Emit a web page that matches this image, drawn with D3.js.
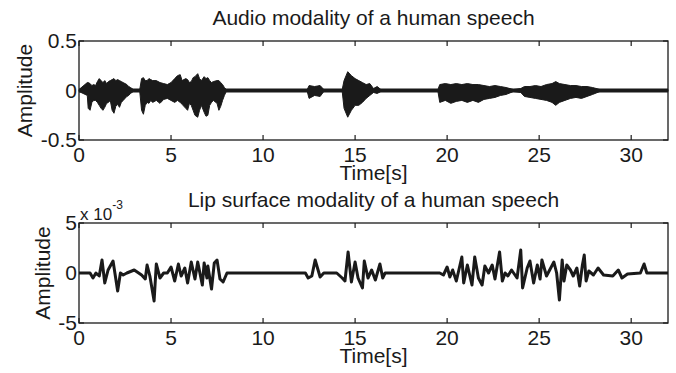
<!DOCTYPE html>
<meta charset="utf-8">

<!-- Load d3.js -->
<script src="https://d3js.org/d3.v7.min.js"></script>

<style>
  body { margin: 0; background: #fff; }
  text { font-family: "Liberation Sans", Arial, sans-serif; fill: #1a1a1a; }
</style>

<!-- Create a div where the graph will take place -->
<div id="my_dataviz"></div>

<script>

    // x ticks shared by both panels
    var timeTicks = [0, 5, 10, 15, 20, 25, 30];

    // audio envelope (time in s, upper / lower amplitude)
    var audioTime  = [0, 0.45, 0.5, 0.6, 0.7, 0.8, 0.9, 1.0, 1.1, 1.2, 1.3, 1.4, 1.5, 1.6, 1.7, 1.8, 1.9,
                      2.0, 2.1, 2.2, 2.3, 2.4, 2.5, 2.6, 2.7, 2.8, 2.95,
                      3.3, 3.4, 3.5, 3.6, 3.7, 3.8, 3.9, 4.0, 4.2, 4.4, 4.6, 4.8, 5.0, 5.2, 5.35, 5.5,
                      5.6, 5.8, 5.9, 6.0, 6.1, 6.2, 6.3, 6.45, 6.55, 6.65, 6.8, 6.9, 7.0, 7.1, 7.2,
                      7.3, 7.5, 7.6, 7.7, 7.8, 7.9, 8.0,
                      12.4, 12.5, 12.8, 13.1, 13.3,
                      14.3, 14.4, 14.6, 14.8, 15.0, 15.2, 15.4, 15.6, 15.8, 16.0, 16.2, 16.4,
                      19.5, 19.6, 19.9, 20.2, 20.5, 20.8, 21.1, 21.4, 21.7, 22.0, 22.3, 22.6, 22.9,
                      23.2, 23.6, 24.0, 24.2, 24.5, 24.8, 25.1, 25.4, 25.7, 25.9, 26.1, 26.4, 26.7,
                      27.0, 27.3, 27.6, 27.9, 28.3, 32];
    var audioUpper = [0.01, 0.08, 0.08, 0.07, 0.05, 0.06, 0.05, 0.09, 0.12, 0.10, 0.08, 0.10, 0.07, 0.09, 0.10, 0.11, 0.12,
                      0.10, 0.11, 0.10, 0.09, 0.08, 0.07, 0.06, 0.04, 0.03, 0.01,
                      0.01, 0.12, 0.13, 0.10, 0.10, 0.12, 0.11, 0.10, 0.10, 0.08, 0.07, 0.06, 0.08, 0.12, 0.15, 0.16,
                      0.10, 0.12, 0.11, 0.08, 0.09, 0.13, 0.14, 0.17, 0.12, 0.10, 0.14, 0.12, 0.13, 0.10, 0.08,
                      0.09, 0.10, 0.10, 0.08, 0.06, 0.03, 0.01,
                      0.01, 0.05, 0.04, 0.05, 0.01,
                      0.01, 0.10, 0.19, 0.15, 0.12, 0.10, 0.08, 0.06, 0.07, 0.02, 0.04, 0.01,
                      0.01, 0.06, 0.07, 0.06, 0.07, 0.06, 0.07, 0.06, 0.06, 0.05, 0.04, 0.05, 0.04,
                      0.03, 0.01, 0.02, 0.04, 0.04, 0.05, 0.04, 0.06, 0.07, 0.09, 0.07, 0.06, 0.05,
                      0.05, 0.04, 0.04, 0.03, 0.01, 0.01];
    var audioLower = [-0.01, -0.05, -0.18, -0.20, -0.12, -0.10, -0.10, -0.12, -0.15, -0.18, -0.20, -0.17, -0.13, -0.12, -0.10, -0.20, -0.23,
                      -0.16, -0.14, -0.17, -0.12, -0.10, -0.08, -0.06, -0.05, -0.03, -0.01,
                      -0.01, -0.20, -0.24, -0.15, -0.12, -0.13, -0.10, -0.12, -0.10, -0.13, -0.09, -0.08, -0.10, -0.12, -0.10, -0.12,
                      -0.14, -0.18, -0.20, -0.13, -0.15, -0.20, -0.25, -0.27, -0.20, -0.15, -0.22, -0.26, -0.25, -0.15, -0.12,
                      -0.10, -0.13, -0.20, -0.16, -0.10, -0.05, -0.01,
                      -0.01, -0.08, -0.05, -0.06, -0.01,
                      -0.01, -0.18, -0.27, -0.20, -0.15, -0.15, -0.12, -0.08, -0.05, -0.02, -0.03, -0.01,
                      -0.01, -0.12, -0.10, -0.13, -0.11, -0.10, -0.12, -0.10, -0.12, -0.09, -0.08, -0.07, -0.05,
                      -0.04, -0.01, -0.02, -0.06, -0.07, -0.08, -0.09, -0.10, -0.12, -0.15, -0.12, -0.10, -0.08,
                      -0.07, -0.08, -0.06, -0.04, -0.01, -0.01];

    // lip surface signal (time in s, value in 1e-3)
    var lipTime  = [0, 0.6, 0.76, 0.92, 1.1, 1.25, 1.4, 1.58, 1.85, 2.1, 2.25, 2.4, 2.6, 3.0, 3.4,
                    3.6, 3.7, 3.85, 4.08, 4.2, 4.4, 4.6, 4.8, 5.0, 5.2, 5.4, 5.55, 5.75, 5.9, 6.1,
                    6.3, 6.45, 6.7, 6.8, 6.95, 7.0, 7.2, 7.35, 7.5, 7.66, 7.83, 8.04,
                    12.3, 12.45, 12.65, 12.83, 13.1, 13.3, 14.0, 14.3, 14.45, 14.62, 14.8, 15.0,
                    15.16, 15.4, 15.5, 15.7, 15.9, 16.1, 16.35, 16.5, 16.63,
                    19.6, 19.8, 20.0, 20.15, 20.3, 20.5, 20.8, 20.9, 21.1, 21.35, 21.5, 21.7, 21.9,
                    22.05, 22.25, 22.45, 22.6, 22.85, 23.0, 23.15, 23.3, 23.5, 23.8, 24.0, 24.1,
                    24.35, 24.5, 24.7, 24.9, 25.05, 25.15, 25.4, 25.8, 25.95, 26.1, 26.25, 26.35,
                    26.5, 26.7, 26.85, 27.05, 27.2, 27.35, 27.45, 27.55, 27.7, 27.95, 28.2, 28.5,
                    29.0, 29.3, 29.5, 29.8, 30.5, 30.7, 30.85, 32];
    var lipValue = [0, 0, -0.5, 0, -0.3, 1.3, -1.0, 0.3, 1.2, -1.8, 0, -0.2, 0, 0.3, -0.2,
                    -0.6, 0.8, -0.3, -2.8, 0.9, -0.5, 0, 0, 0.6, -0.8, 0.9, -0.3, 0.5, -1.0, 1.1,
                    -0.6, 1.1, -1.2, 1.0, -0.5, 0.7, -1.6, 1.0, 1.3, -0.6, -0.9, 0,
                    0, -0.5, -0.3, 1.3, -0.4, 0, 0, -0.5, -0.8, 2.1, -0.9, 1.1,
                    -0.5, -1.5, 1.2, -0.5, 0.3, -0.7, 0.9, -0.5, 0,
                    0, -0.2, 0.6, -0.4, 0.3, -0.8, 1.6, -1.0, 0.8, -1.2, 1.6, -0.5, -1.2,
                    0.7, 0, 0.8, -0.6, 2.1, -0.8, 0, -0.3, 0.3, -0.5, 2.3, -1.5,
                    0.5, 1.2, -1.0, 0.8, -0.6, 1.3, -0.3, 1.1, 0, -2.7, 1.3, -0.8,
                    0.8, 0.3, -0.3, 0.5, -1.3, 0.8, 1.8, -0.8, 0.2, -0.2, 0.5, -0.2,
                    -0.3, 0.3, -0.5, -0.1, 0, 0.9, 0, 0];

    var audioTicks = [-0.5, 0, 0.5];
    var lipTicks = [-5, 0, 5];

    var W = 676, H = 373;
    var svg = d3.select("#my_dataviz")
      .append("svg")
        .attr("width", W)
        .attr("height", H);

    var x = d3.scaleLinear().domain([0, 32]).range([79, 668]);
    var ink = "#1a1a1a";
    var fs = "21px";

    // draws one MATLAB style panel box with ticks and labels
    function panel(top, bottom, yTicks, yDomain, title, ampX) {
      var y = d3.scaleLinear().domain(yDomain).range([bottom, top]);
      var g = svg.append("g");

      g.append("rect")
        .attr("x", x(0)).attr("y", top)
        .attr("width", x(32) - x(0)).attr("height", bottom - top)
        .attr("fill", "none").attr("stroke", ink).attr("stroke-width", 1.3);

      // inward ticks top and bottom
      timeTicks.forEach(function(t) {
        g.append("line").attr("x1", x(t)).attr("x2", x(t)).attr("y1", bottom).attr("y2", bottom - 5)
          .attr("stroke", ink).attr("stroke-width", 1.2);
        g.append("line").attr("x1", x(t)).attr("x2", x(t)).attr("y1", top).attr("y2", top + 5)
          .attr("stroke", ink).attr("stroke-width", 1.2);
        g.append("text").attr("x", x(t)).attr("y", bottom + 22)
          .attr("text-anchor", "middle").style("font-size", fs).text(t);
      });

      yTicks.forEach(function(v) {
        g.append("line").attr("x1", x(0)).attr("x2", x(0) + 5).attr("y1", y(v)).attr("y2", y(v))
          .attr("stroke", ink).attr("stroke-width", 1.2);
        g.append("line").attr("x1", x(32)).attr("x2", x(32) - 5).attr("y1", y(v)).attr("y2", y(v))
          .attr("stroke", ink).attr("stroke-width", 1.2);
        g.append("text").attr("x", 77).attr("y", y(v) + 7)
          .attr("text-anchor", "end").style("font-size", fs).text(v);
      });

      g.append("text").attr("x", (x(0) + x(32)) / 2).attr("y", top - 16)
        .attr("text-anchor", "middle").style("font-size", fs).text(title);

      g.append("text").attr("x", (x(0) + x(32)) / 2).attr("y", bottom + 40)
        .attr("text-anchor", "middle").style("font-size", fs).text("Time[s]");

      g.append("text")
        .attr("transform", "translate(" + ampX + "," + ((top + bottom) / 2) + ") rotate(-90)")
        .attr("text-anchor", "middle").style("font-size", fs).text("Amplitude");

      return y;
    }

    var yA = panel(41, 140, audioTicks, [-0.5, 0.5], "Audio modality of a human speech", 32);
    var yL = panel(223, 323, lipTicks, [-5, 5], "Lip surface modality of a human speech", 50);

    // audio waveform envelope
    var audio = audioTime.map(function(t, i) { return {t: t, hi: audioUpper[i], lo: audioLower[i]}; });
    svg.append("path")
      .datum(audio)
      .attr("fill", ink)
      .attr("stroke", ink)
      .attr("stroke-width", 1)
      .attr("d", d3.area()
        .x(function(d) { return x(d.t); })
        .y0(function(d) { return yA(d.lo); })
        .y1(function(d) { return yA(d.hi); }));
    svg.append("line")
      .attr("x1", x(0)).attr("x2", x(32)).attr("y1", yA(0)).attr("y2", yA(0))
      .attr("stroke", ink).attr("stroke-width", 4);

    // lip surface line
    var lip = lipTime.map(function(t, i) { return {t: t, v: lipValue[i]}; });
    svg.append("path")
      .datum(lip)
      .attr("fill", "none")
      .attr("stroke", ink)
      .attr("stroke-width", 3)
      .attr("stroke-linejoin", "round")
      .attr("d", d3.line()
        .x(function(d) { return x(d.t); })
        .y(function(d) { return yL(d.v); }));

    // exponent label
    var ex = svg.append("text").attr("x", 80).attr("y", 220).style("font-size", "17px");
    ex.append("tspan").text("x 10");
    ex.append("tspan").attr("dy", -11).style("font-size", "12px").text("-3");

</script>
